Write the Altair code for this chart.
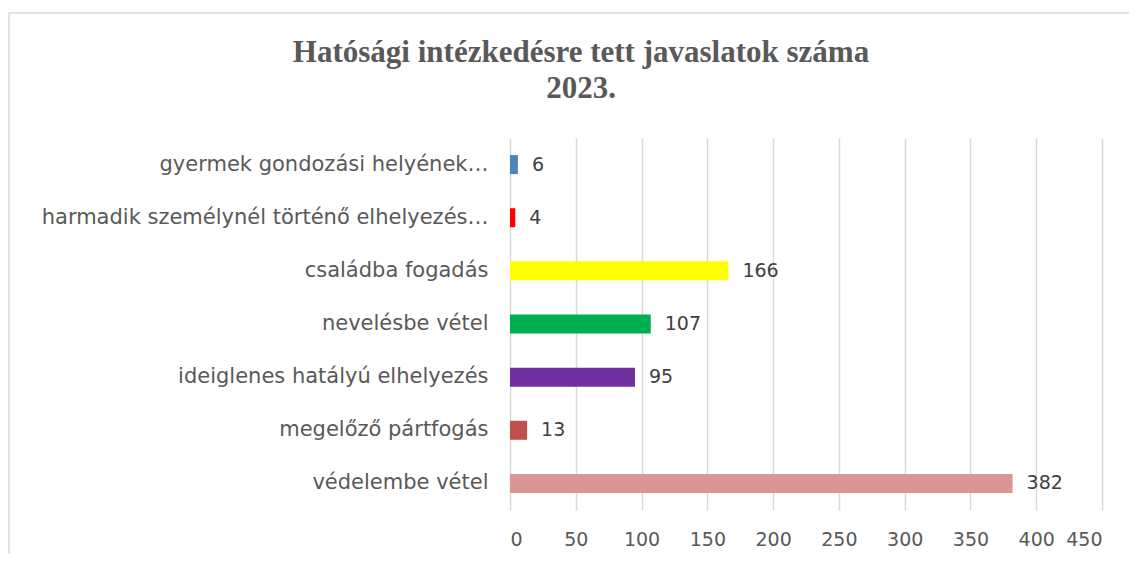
import altair as alt
import pandas as pd

categories = [
    "gyermek gondozási helyének…",
    "harmadik személynél történő elhelyezés…",
    "családba fogadás",
    "nevelésbe vétel",
    "ideiglenes hatályú elhelyezés",
    "megelőző pártfogás",
    "védelembe vétel",
]
values = [6, 4, 166, 107, 95, 13, 382]
colors = ["#4f81bd", "#ff0000", "#ffff00", "#00b050", "#7030a0", "#c0504d", "#da9694"]
x_ticks = [0, 50, 100, 150, 200, 250, 300, 350, 400, 450]
title_lines = ["Hatósági intézkedésre tett javaslatok száma", "2023."]

df = pd.DataFrame({"cat": categories, "val": values})

LABEL_FONT = "DejaVu Sans"
TXT = "#595959"

y_enc = alt.Y(
    "cat:N", sort=categories, title=None,
    axis=alt.Axis(labelFont=LABEL_FONT, labelFontSize=21, labelColor=TXT,
                  labelPadding=22, ticks=False, domain=False, labelLimit=600,
                  grid=False),
)
x_enc = alt.X(
    "val:Q", title=None, scale=alt.Scale(domain=[0, 450], nice=False),
    axis=alt.Axis(values=x_ticks, grid=True, gridColor="#d9d9d9", gridWidth=1.5,
                  ticks=False, domain=False, labelFont=LABEL_FONT, labelFontSize=19,
                  labelColor=TXT, labelPadding=20, format="d"),
)

base = alt.Chart(df)

bars = base.mark_bar(size=19).encode(
    x=x_enc, y=y_enc,
    color=alt.Color("cat:N", scale=alt.Scale(domain=categories, range=colors), legend=None),
)

labels = base.mark_text(align="left", baseline="middle", dx=14,
                        font=LABEL_FONT, fontSize=19, color="#404040").encode(
    x="val:Q", y=alt.Y("cat:N", sort=categories), text="val:Q",
)

frame = alt.Chart(pd.DataFrame({"a": [0]})).mark_rect(
    filled=False, stroke="#d9d9d9", strokeWidth=1.5, clip=False
).encode(
    x=alt.value(-501), x2=alt.value(650), y=alt.value(-125), y2=alt.value(450)
)

chart = alt.layer(frame, bars, labels).properties(
    width=592, height=372,
    padding={"left": 502, "top": 130, "right": 27, "bottom": 44},
    autosize="none",
    title=alt.TitleParams(
        title_lines, font="Liberation Serif", fontSize=31, fontWeight="bold",
        color=TXT, anchor="middle", dx=-225, offset=-93, lineHeight=36,
    ),
).configure_view(stroke=None)

chart.save("out.html", embed_options={"renderer": "svg", "actions": False})
